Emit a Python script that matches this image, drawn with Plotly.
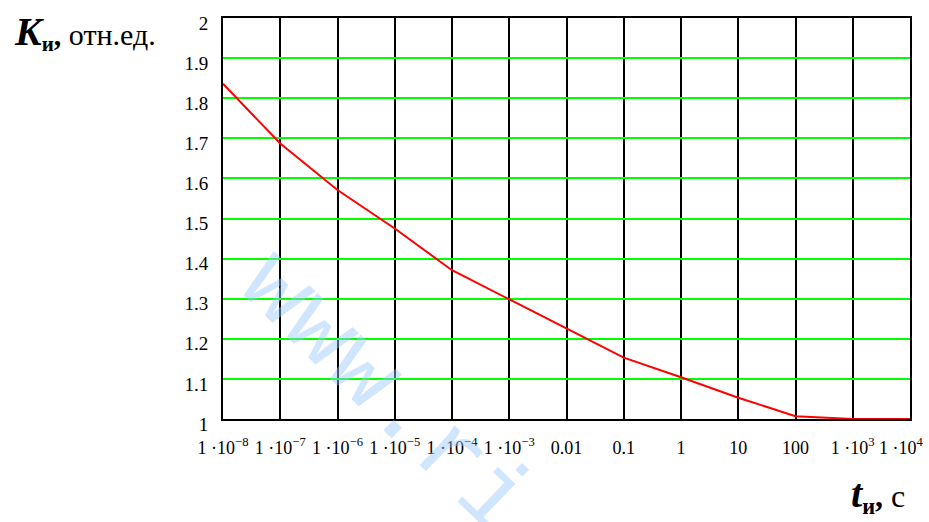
import plotly.graph_objects as go

# Data
t_values = [1e-8, 1e-7, 1e-6, 1e-5, 1e-4, 1e-3, 1e-2, 1e-1, 1, 10, 100, 1e3, 1e4]
k_values = [1.836, 1.687, 1.571, 1.475, 1.371, 1.299, 1.226, 1.153, 1.104, 1.053, 1.007, 1.0, 1.0]

x_tickvals = [1e-8, 1e-7, 1e-6, 1e-5, 1e-4, 1e-3, 1e-2, 1e-1, 1, 10, 100, 1e3, 1e4]
x_ticktext = ["1 ·10<sup>−8</sup>", "1 ·10<sup>−7</sup>", "1 ·10<sup>−6</sup>", "1 ·10<sup>−5</sup>",
              "1 ·10<sup>−4</sup>", "1 ·10<sup>−3</sup>", "0.01", "0.1", "1", "10", "100",
              "1 ·10<sup>3</sup>", "1 ·10<sup>4</sup>\u2002\u2002"]
y_tickvals = [1, 1.1, 1.2, 1.3, 1.4, 1.5, 1.6, 1.7, 1.8, 1.9, 2]
y_ticktext = ["1", "1.1", "1.2", "1.3", "1.4", "1.5", "1.6", "1.7", "1.8", "1.9", "2"]

FONT = "Liberation Serif, Times New Roman, serif"

fig = go.Figure()
fig.add_trace(go.Scatter(x=t_values, y=k_values, mode="lines",
                         line=dict(color="#ff0000", width=2), showlegend=False,
                         hoverinfo="skip"))

fig.update_layout(
    width=929, height=522,
    margin=dict(l=223, r=19, t=18, b=103, autoexpand=False),
    paper_bgcolor="white", plot_bgcolor="white",
    font=dict(family=FONT, size=18, color="black"),
    xaxis=dict(type="log", range=[-8, 4], tickmode="array",
               tickvals=x_tickvals, ticktext=x_ticktext,
               showgrid=True, gridcolor="black", gridwidth=2,
               showline=True, linecolor="black", linewidth=2, mirror=True,
               ticks="", zeroline=False, ticklabelstandoff=11, automargin=False,
               ticklabeloverflow="allow",
               tickfont=dict(family=FONT, size=18)),
    yaxis=dict(range=[1, 2], tickmode="array",
               tickvals=y_tickvals, ticktext=y_ticktext,
               showgrid=True, gridcolor="#00ff00", gridwidth=2,
               showline=True, linecolor="black", linewidth=2, mirror=True,
               ticks="", zeroline=False, ticklabelstandoff=9, ticklabelshift=5,
               automargin=False, ticklabeloverflow="allow",
               tickfont=dict(family=FONT, size=19)),
    annotations=[
        dict(xref="paper", yref="paper", x=-0.307, y=0.965, xanchor="left", yanchor="middle",
             showarrow=False,
             text="<b><i><span style='font-size:40px'>K</span></i><sub>и</sub>,</b> отн.ед.",
             font=dict(family=FONT, size=30, color="black")),
        dict(xref="paper", yref="paper", x=0.995, y=-0.19, xanchor="right", yanchor="middle",
             showarrow=False,
             text="<b><i><span style='font-size:40px'>t</span></i><sub>и</sub>,</b> с",
             font=dict(family=FONT, size=32, color="black")),
        dict(xref="paper", yref="paper", x=0.235, y=0.06, xanchor="center", yanchor="middle",
             showarrow=False, textangle=44, text="www.ri",
             font=dict(family="Liberation Mono, DejaVu Sans Mono, monospace", size=100,
                       color="rgba(150,200,255,0.45)")),
    ],
)

fig.write_html("out.html", post_script="document.body.style.margin='0px';",
               config={"displayModeBar": False})
